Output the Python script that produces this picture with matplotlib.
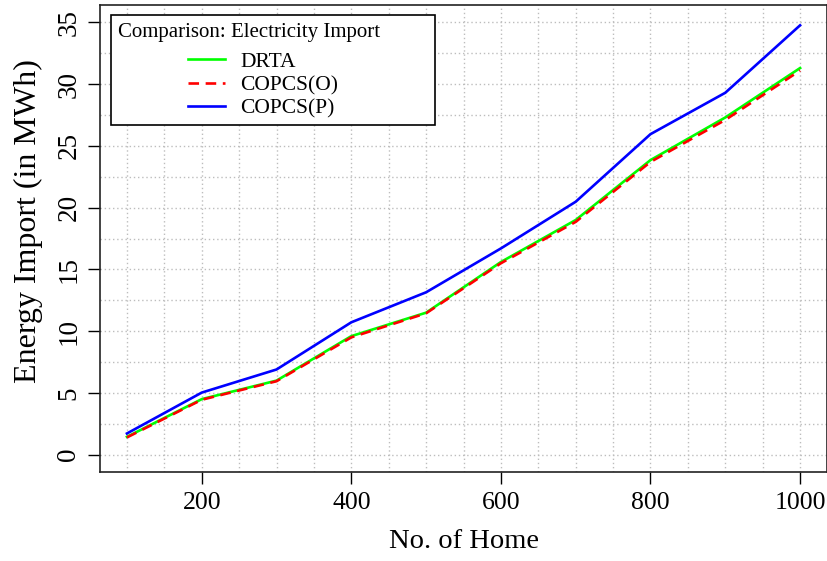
"""Energy import comparison: DRTA vs COPCS(O) vs COPCS(P)."""
import matplotlib.pyplot as plt
from matplotlib.patches import Rectangle

homes = [100, 200, 300, 400, 500, 600, 700, 800, 900, 1000]
drta = [1.45, 4.5, 6.0, 9.6, 11.5, 15.6, 19.0, 23.85, 27.3, 31.3]
copcs_o = [1.4, 4.45, 5.95, 9.5, 11.45, 15.5, 18.85, 23.7, 27.1, 31.1]
copcs_p = [1.72, 5.03, 6.9, 10.72, 13.15, 16.7, 20.48, 25.95, 29.3, 34.76]

x_ticks = [200, 400, 600, 800, 1000]
y_ticks = [0, 5, 10, 15, 20, 25, 30, 35]
x_grid = list(range(100, 1001, 50))
y_grid = [v * 2.5 for v in range(15)]

plt.rcParams["font.family"] = ["Liberation Serif", "DejaVu Serif"]


def main() -> None:
    fig = plt.figure(figsize=(8.28, 5.61), dpi=100)
    ax = fig.add_axes([0.1208, 0.1586, 0.8780, 0.8324])

    for gx in x_grid:
        ax.axvline(gx, color="#bdbdbd", lw=1.0, ls=(0, (1, 2)), zorder=0)
    for gy in y_grid:
        ax.axhline(gy, color="#bdbdbd", lw=1.0, ls=(0, (1, 2)), zorder=0)

    ax.plot(homes, copcs_p, color="#0000ff", lw=1.9, label="COPCS(P)", zorder=3)
    ax.plot(homes, drta, color="#00ff00", lw=1.9, label="DRTA", zorder=3)
    ax.plot(homes, copcs_o, color="#ff0000", lw=1.9, ls=(0, (4, 2.5)),
            label="COPCS(O)", zorder=4)

    ax.set_xlim(64, 1036)
    ax.set_ylim(-1.4, 36.4)
    ax.set_xticks(x_ticks)
    ax.set_yticks(y_ticks)
    ax.set_yticklabels([str(v) for v in y_ticks], rotation=90, va="center")
    ax.tick_params(direction="out", length=8.5, width=1)
    ax.tick_params(axis="x", labelsize=18.5, pad=6)
    ax.tick_params(axis="y", labelsize=19.5, pad=5)
    for s in ax.spines.values():
        s.set_linewidth(1.2)
        s.set_color("#222222")

    ax.set_xlabel("No. of Home", fontsize=20.5, labelpad=11)
    ax.set_ylabel("Energy Import (in MWh)", fontsize=23)
    ax.yaxis.set_label_coords(-0.079, 0.5375)

    # legend box drawn by hand to keep the R-style layout
    ax.add_patch(Rectangle((0.0151, 0.743), 0.4457, 0.2356, transform=ax.transAxes,
                           facecolor="white", edgecolor="black", lw=1.2, zorder=5))
    ax.text(0.0245, 0.941, "Comparison: Electricity Import", transform=ax.transAxes,
            fontsize=15, va="center", ha="left", zorder=6)
    handles, labels = ax.get_legend_handles_labels()
    order = [1, 2, 0]
    leg = ax.legend([handles[i] for i in order], [labels[i] for i in order],
                    loc="upper left", bbox_to_anchor=(0.121, 0.9), frameon=False,
                    fontsize=15.5, handlelength=1.7, handletextpad=0.72,
                    labelspacing=0.15, borderpad=0, borderaxespad=0)
    leg.set_zorder(7)

    fig.savefig("out.png", dpi=100)
    plt.close(fig)


if __name__ == "__main__":
    main()
